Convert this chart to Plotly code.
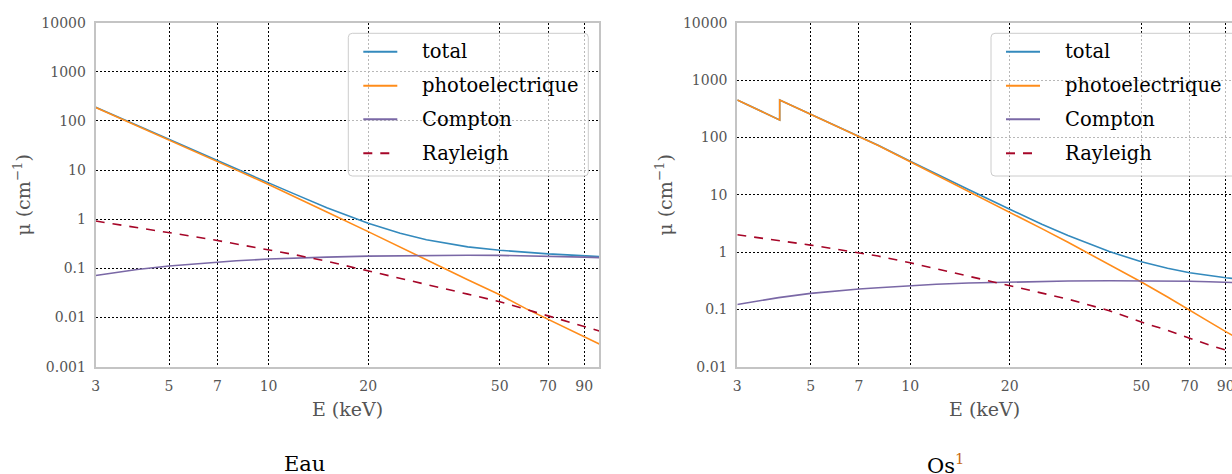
import math
import plotly.graph_objects as go

# ---------------- data ----------------
E = [3, 4, 5, 6, 7, 8, 10, 12, 15, 20, 25, 30, 40, 50, 60, 70, 80, 90, 100]

# Eau (water)
eau_total = [190, 80.8, 42.7, 25.1, 15.4, 10.5, 5.5, 3.25, 1.71, 0.83, 0.52, 0.382,
             0.274, 0.234, 0.211, 0.198, 0.189, 0.181, 0.174]
eau_photo = [189, 80, 42, 24.5, 14.9, 10, 5.1, 2.9, 1.4, 0.56, 0.275, 0.15,
             0.059, 0.029, 0.0152, 0.0093, 0.0061, 0.0041, 0.0029]
eau_compton = [0.072, 0.095, 0.112, 0.124, 0.136, 0.143, 0.155, 0.163, 0.170, 0.178,
               0.182, 0.184, 0.185, 0.184, 0.181, 0.178, 0.174, 0.170, 0.166]
eau_rayleigh = [0.92, 0.68, 0.55, 0.44, 0.37, 0.315, 0.243, 0.19, 0.14, 0.09,
                0.064, 0.048, 0.030, 0.021, 0.0148, 0.0108, 0.0084, 0.0066, 0.0053]

# Os (osmium) - photoelectric / total include an absorption edge near 4 keV
E_os_edge = [3, 4.03, 4.03, 5, 6, 7, 8, 10, 12, 15, 20, 25, 30, 40, 50, 60, 70, 80, 90, 100]
os_total = [450, 201.8, 449.8, 254.5, 156.3, 106.2, 73.1, 38.4, 22.9, 12.3, 5.57, 3.06,
            1.94, 1.02, 0.676, 0.521, 0.436, 0.388, 0.357, 0.335]
os_photo = [448, 200, 448, 253, 155, 105, 72, 37.5, 22.1, 11.6, 5.0, 2.56,
            1.48, 0.61, 0.30, 0.164, 0.095, 0.061, 0.041, 0.029]
os_compton = [0.122, 0.16, 0.19, 0.21, 0.226, 0.238, 0.259, 0.274, 0.288, 0.30,
              0.308, 0.312, 0.316, 0.316, 0.314, 0.31, 0.303, 0.296, 0.29]
os_rayleigh = [2.0, 1.6, 1.32, 1.12, 0.97, 0.85, 0.65, 0.51, 0.385, 0.265,
               0.195, 0.151, 0.095, 0.06, 0.043, 0.031, 0.024, 0.0195, 0.016]

series_names = ["total", "photoelectrique", "Compton", "Rayleigh"]
x_tickvals = [3, 5, 7, 10, 20, 50, 70, 90]
x_ticktext = ["3", "5", "7", "10", "20", "50", "70", "90"]
y_tickvals_eau = [0.001, 0.01, 0.1, 1, 10, 100, 1000, 10000]
y_ticktext_eau = ["0.001", "0.01", "0.1", "1", "10", "100", "1000", "10000"]
y_tickvals_os = [0.01, 0.1, 1, 10, 100, 1000, 10000]
y_ticktext_os = ["0.01", "0.1", "1", "10", "100", "1000", "10000"]
panel_titles = ["Eau", 'Os<sup><span style="color:#c8690e">1</span></sup>']
x_title = "E (keV)"
y_title = "μ (cm<sup>−1</sup>)"

# ---------------- styling ----------------
W, H = 1232, 474
FONT = "DejaVu Serif"
colors = ["#348ABD", "#FF8C1A", "#7A68A6", "#A60628"]
dashes = ["solid", "solid", "solid", "9px,8px"]
LW = 1.6

fig = go.Figure()

def add_panel(xs_list, ys_list, xa, ya):
    for name, xs, ys, c, d in zip(series_names, xs_list, ys_list, colors, dashes):
        fig.add_trace(go.Scatter(
            x=xs, y=ys, name=name, mode="lines",
            line=dict(color=c, width=LW, dash=d),
            xaxis=xa, yaxis=ya, showlegend=False,
        ))

add_panel([E, E, E, E], [eau_total, eau_photo, eau_compton, eau_rayleigh], "x", "y")
add_panel([E_os_edge, E_os_edge, E, E], [os_total, os_photo, os_compton, os_rayleigh], "x2", "y2")

# pixel geometry
y_top, y_bot = 22.7, 366.7
ydom = [1 - y_bot / H, 1 - y_top / H]
xl0, xl1 = 95.7, 599.3
xr0 = 737.3
px_per_dec = (xl1 - xl0) / (2 - math.log10(3))
xr_max = math.log10(3) + (W - xr0) / px_per_dec

def px(x):
    return x / W

def py(y):
    return 1 - y / H

grid = dict(showgrid=True, gridcolor="black", gridwidth=1, griddash="2px,2px",
            showline=True, linecolor="#c4c4c4", linewidth=2, ticks="",
            tickfont=dict(family=FONT, size=14, color="#555555"))
xtitle = dict(text=x_title, font=dict(family=FONT, size=19, color="#555555"), standoff=10)

def rounded_box(x0, y0, x1, y1, r=4.0):
    # path in paper coordinates built from pixel corners
    pts = [
        f"M{px(x0 + r)},{py(y0)}", f"L{px(x1 - r)},{py(y0)}",
        f"Q{px(x1)},{py(y0)} {px(x1)},{py(y0 + r)}", f"L{px(x1)},{py(y1 - r)}",
        f"Q{px(x1)},{py(y1)} {px(x1 - r)},{py(y1)}", f"L{px(x0 + r)},{py(y1)}",
        f"Q{px(x0)},{py(y1)} {px(x0)},{py(y1 - r)}", f"L{px(x0)},{py(y0 + r)}",
        f"Q{px(x0)},{py(y0)} {px(x0 + r)},{py(y0)}", "Z",
    ]
    return " ".join(pts)

# ---------------- hand-built legends (one per panel) ----------------
shapes = []
annotations = []
row_y = [51.7, 85.7, 119.3, 153.3]
for box_left, box_right in [(348.3, 588.3), (991.0, 1245.0)]:
    shapes.append(dict(type="path", xref="paper", yref="paper", layer="above",
                       path=rounded_box(box_left, 33.3, box_right, 176.0),
                       fillcolor="rgba(255,255,255,0.72)",
                       line=dict(color="#cccccc", width=1)))
    for name, c, d, ry in zip(series_names, colors, dashes, row_y):
        shapes.append(dict(type="line", xref="paper", yref="paper", layer="above",
                           x0=px(box_left + 15), x1=px(box_left + 49), y0=py(ry), y1=py(ry),
                           line=dict(color=c, width=LW + 0.4, dash=d)))
        annotations.append(dict(text=name, x=px(box_left + 72), y=py(ry),
                                xref="paper", yref="paper", showarrow=False,
                                xanchor="left", yanchor="middle",
                                font=dict(family=FONT, size=19.5, color="black")))

# y-axis titles
for cx in [22.0, 664.0]:
    annotations.append(dict(text=y_title, x=px(cx), y=py((y_top + y_bot) / 2),
                            xref="paper", yref="paper", showarrow=False, textangle=-90,
                            xanchor="center", yanchor="middle",
                            font=dict(family=FONT, size=19, color="#555555")))

# panel captions
for t, cx in zip(panel_titles, [304.0, 945.0]):
    annotations.append(dict(text=t, x=px(cx), y=py(464), xref="paper", yref="paper",
                            showarrow=False, xanchor="center", yanchor="middle",
                            font=dict(family=FONT, size=21, color="black")))

fig.update_layout(
    width=W, height=H,
    margin=dict(l=0, r=0, t=0, b=0, autoexpand=False),
    paper_bgcolor="white", plot_bgcolor="white",
    showlegend=False,
    xaxis=dict(type="log", domain=[px(xl0), px(xl1)], range=[math.log10(3), 2],
               tickvals=x_tickvals, ticktext=x_ticktext, mirror=True, anchor="y",
               ticklabelstandoff=5, title=xtitle, **grid),
    yaxis=dict(type="log", domain=ydom, range=[-3, 4],
               tickvals=y_tickvals_eau, ticktext=y_ticktext_eau, mirror=True, anchor="x",
               ticklabelstandoff=5, **grid),
    xaxis2=dict(type="log", domain=[px(xr0), 1.0], range=[math.log10(3), xr_max],
                tickvals=x_tickvals, ticktext=x_ticktext, mirror=True, anchor="y2",
                ticklabelstandoff=5, ticklabeloverflow="allow", title=xtitle, **grid),
    yaxis2=dict(type="log", domain=ydom, range=[-2, 4],
                tickvals=y_tickvals_os, ticktext=y_ticktext_os, mirror=False, anchor="x2",
                ticklabelstandoff=5, **grid),
    shapes=shapes,
    annotations=annotations,
)

fig.write_html(
    "out.html",
    config={"displayModeBar": False},
    post_script="document.body.style.margin='0px';document.body.style.overflow='hidden';",
)
